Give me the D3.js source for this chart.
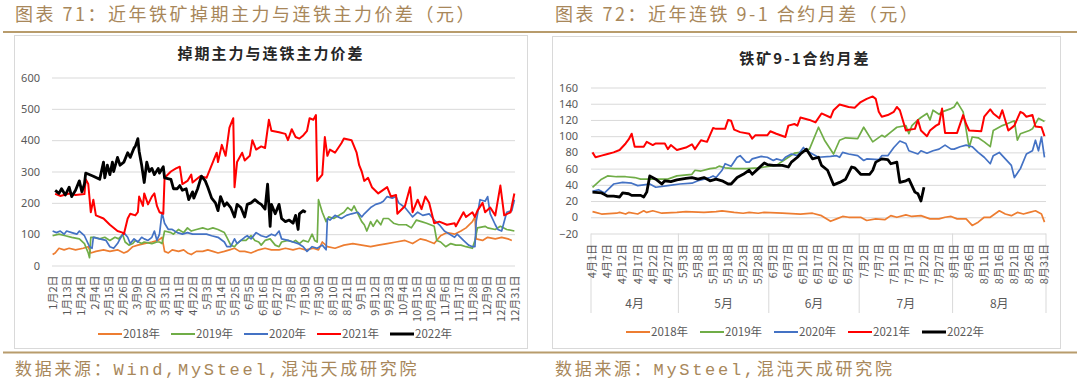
<!DOCTYPE html>
<html><head><meta charset="utf-8">
<script src="https://cdn.jsdelivr.net/npm/d3@7"></script>
<style>
html,body{margin:0;padding:0;background:#fff;}
svg{display:block;}
text{font-family:"Noto Sans CJK SC","Noto Sans",sans-serif;}
</style></head>
<body>
<svg id="c" width="1080" height="385"></svg>
<script>
// ---------- Left chart data (day index from 1/2, value) ----------
const leftTickLabels = ["1月2日","1月13日","1月24日","2月4日","2月15日","2月26日","3月9日","3月20日","3月31日","4月11日","4月22日","5月3日","5月14日","5月25日","6月5日","6月16日","6月27日","7月8日","7月19日","7月30日","8月10日","8月21日","9月1日","9月12日","9月23日","10月4日","10月15日","10月26日","11月6日","11月17日","11月28日","12月9日","12月20日","12月31日"];
const leftYTicks = [0,100,200,300,400,500,600];
const seriesNames = ["2018年","2019年","2020年","2021年","2022年"];
const seriesColors = ["#ED7D31","#70AD47","#4472C4","#FF0000","#000000"];

const left2018 = [[0,35],[2,40],[5,55],[9,50],[13,55],[18,50],[24,55],[28,60],[30,40],[34,45],[40,50],[45,45],[51,50],[56,40],[59,45],[63,60],[67,65],[72,70],[78,75],[83,80],[86,90],[88,45],[91,40],[94,50],[99,45],[103,50],[106,40],[109,35],[113,45],[118,45],[122,50],[126,45],[130,40],[135,45],[139,50],[143,55],[147,45],[151,45],[156,40],[162,50],[167,55],[172,50],[178,50],[183,55],[189,50],[194,55],[199,50],[205,55],[209,50],[212,75],[216,60],[222,55],[229,65],[236,70],[243,65],[250,60],[256,65],[263,70],[270,75],[277,80],[283,70],[289,85],[294,80],[300,70],[305,95],[310,105],[316,100],[321,110],[325,120],[330,140],[332,155],[333,85],[338,80],[342,90],[348,85],[353,90],[358,85],[361,80]];
const left2019 = [[0,95],[5,100],[10,95],[15,90],[21,85],[25,70],[28,40],[29,25],[30,90],[33,90],[37,85],[41,90],[45,80],[49,90],[52,85],[55,100],[57,75],[60,65],[63,70],[65,80],[70,70],[72,75],[78,70],[82,75],[84,75],[86,70],[88,110],[93,105],[95,100],[99,115],[103,105],[106,120],[109,110],[113,115],[118,120],[122,115],[126,120],[130,115],[135,105],[137,90],[140,65],[143,60],[145,70],[148,80],[152,80],[156,95],[159,80],[162,75],[164,65],[167,80],[171,85],[175,65],[178,60],[180,75],[185,80],[189,75],[191,80],[194,70],[197,80],[201,75],[204,100],[206,80],[208,75],[209,210],[212,170],[215,140],[217,155],[221,150],[225,160],[229,170],[232,185],[235,175],[237,190],[240,165],[243,140],[245,130],[247,110],[250,140],[252,125],[255,145],[258,130],[260,150],[264,150],[268,135],[272,130],[278,130],[282,120],[286,145],[290,140],[294,135],[300,125],[302,80],[305,75],[309,60],[313,70],[317,65],[321,65],[325,60],[330,55],[332,80],[334,120],[340,125],[342,120],[348,115],[352,125],[357,115],[363,110]];
const left2020 = [[0,110],[3,105],[6,110],[9,100],[11,110],[15,105],[19,100],[21,110],[25,95],[29,60],[31,55],[32,90],[37,85],[42,80],[45,60],[48,55],[51,70],[53,85],[56,105],[59,90],[61,70],[64,85],[67,75],[70,90],[72,85],[75,80],[78,90],[80,110],[82,80],[84,100],[86,170],[88,135],[91,115],[94,115],[98,105],[102,100],[106,105],[110,100],[116,100],[121,100],[125,95],[130,90],[135,75],[137,60],[140,60],[143,85],[145,70],[148,80],[151,90],[153,95],[156,85],[160,105],[164,95],[168,90],[172,100],[175,95],[178,110],[180,85],[185,80],[189,75],[193,70],[197,60],[200,45],[204,60],[208,55],[212,65],[215,50],[216,150],[218,145],[222,160],[227,150],[231,160],[235,165],[240,170],[243,155],[245,165],[250,185],[254,195],[258,200],[260,205],[263,220],[267,215],[270,220],[272,200],[277,185],[281,165],[283,155],[287,170],[291,160],[296,165],[300,145],[304,130],[308,110],[310,105],[316,90],[318,100],[323,80],[327,65],[330,60],[332,60],[333,140],[336,210],[340,205],[342,220],[344,165],[348,130],[350,115],[353,110],[357,170],[361,175],[363,210]];
const left2021 = [[2,229],[6,222],[13,230],[18,225],[25,228],[26,275],[28,260],[30,170],[32,210],[34,160],[40,150],[45,130],[51,110],[55,105],[56,100],[59,150],[61,165],[65,160],[67,170],[68,220],[71,190],[72,230],[75,195],[78,220],[80,230],[82,190],[84,170],[87,165],[88,280],[93,300],[97,310],[100,315],[102,260],[106,270],[109,290],[110,265],[116,285],[121,280],[124,310],[127,340],[129,360],[130,330],[133,385],[136,350],[139,440],[142,470],[143,250],[145,330],[149,360],[151,335],[155,350],[157,400],[160,370],[164,380],[167,375],[170,465],[172,430],[178,425],[183,420],[185,400],[188,435],[191,410],[194,405],[197,415],[200,430],[202,470],[205,465],[207,480],[208,270],[212,290],[214,410],[216,350],[218,370],[222,360],[227,390],[229,405],[235,400],[239,360],[241,320],[243,300],[245,270],[248,280],[251,250],[256,230],[263,250],[266,220],[270,225],[271,165],[277,190],[281,250],[283,170],[287,210],[290,180],[293,220],[296,200],[300,135],[304,140],[310,130],[316,135],[317,125],[323,170],[325,155],[330,170],[332,155],[334,175],[338,200],[340,170],[344,185],[348,160],[352,255],[355,160],[360,170],[363,230]];
const left2022 = [[2,240],[5,230],[7,245],[10,225],[13,250],[15,220],[18,240],[21,270],[23,235],[25,260],[26,295],[32,285],[37,275],[40,330],[41,280],[43,320],[45,290],[47,330],[48,300],[51,345],[53,320],[56,330],[59,360],[61,345],[64,375],[65,380],[67,405],[68,365],[70,320],[72,265],[74,330],[76,300],[78,310],[80,290],[83,310],[84,295],[87,315],[88,280],[93,275],[95,245],[98,245],[100,255],[102,240],[105,245],[107,210],[110,235],[111,215],[114,245],[117,285],[120,270],[122,250],[125,215],[128,200],[130,175],[132,220],[135,190],[137,200],[140,185],[143,155],[145,195],[148,185],[151,155],[153,195],[156,200],[159,210],[162,200],[164,195],[167,180],[169,260],[171,125],[172,195],[175,165],[178,195],[180,150],[183,140],[186,145],[189,135],[191,160],[193,115],[194,165],[197,175],[199,170]];

// ---------- Right chart data (trading-day category index, value) ----------
const rightMonths = ["4月","5月","6月","7月","8月"];
const rightMonthCounts = [29,30,30,31,31];
const rightTickLabels = ["4月1日","4月7日","4月12日","4月17日","4月22日","4月27日","5月3日","5月8日","5月13日","5月18日","5月23日","5月28日","6月2日","6月7日","6月12日","6月17日","6月22日","6月27日","7月2日","7月7日","7月12日","7月17日","7月22日","7月27日","8月1日","8月6日","8月11日","8月16日","8月21日","8月26日","8月31日"];
const rightYTicks = [-20,0,20,40,60,80,100,120,140,160];

const right2018 = [[0,7],[1,6],[3,4],[8,5],[9,6],[11,4],[12,6],[15,4],[17,8],[18,6],[20,8],[23,5],[28,6],[31,7],[37,6],[41,7],[43,8],[47,6],[50,5],[52,6],[55,5],[57,6],[63,5],[69,4],[73,5],[76,2],[79,-5],[81,-2],[83,1],[85,0],[89,0],[91,-4],[94,-2],[97,-3],[99,2],[101,0],[104,3],[106,1],[109,2],[112,-2],[115,-2],[117,0],[119,1],[121,-2],[124,-2],[126,-10],[128,-6],[130,0],[132,0],[135,8],[137,4],[139,2],[141,6],[143,4],[145,6],[147,8],[149,4],[150,-6]];
const right2019 = [[0,37],[3,47],[5,51],[8,50],[11,50],[14,49],[16,47],[18,47],[21,47],[25,47],[28,51],[33,53],[34,58],[36,57],[39,60],[41,61],[42,63],[44,61],[47,60],[51,60],[55,61],[57,62],[61,64],[65,74],[67,79],[69,80],[72,84],[75,111],[77,95],[80,78],[82,95],[84,98],[88,97],[90,111],[93,93],[96,101],[97,99],[99,105],[101,111],[104,113],[105,103],[106,113],[108,120],[109,123],[111,128],[112,120],[113,132],[115,127],[116,130],[119,134],[120,136],[121,142],[123,130],[125,86],[126,99],[128,98],[130,93],[132,87],[133,107],[136,113],[138,116],[140,119],[141,95],[142,103],[145,107],[146,109],[148,122],[150,118]];
const right2020 = [[0,32],[2,34],[4,30],[7,41],[10,43],[13,42],[15,39],[17,40],[19,41],[21,37],[25,39],[29,41],[33,42],[35,45],[37,47],[39,49],[40,51],[41,49],[43,58],[44,66],[46,63],[48,74],[49,76],[51,68],[52,68],[53,72],[56,75],[58,74],[60,70],[61,72],[63,70],[64,74],[66,78],[68,76],[70,86],[71,82],[73,78],[75,74],[79,75],[81,76],[82,74],[83,80],[85,78],[88,76],[90,70],[91,72],[95,71],[96,76],[98,76],[100,86],[102,94],[104,91],[105,82],[108,78],[109,82],[111,79],[113,82],[115,84],[117,89],[119,84],[120,84],[122,87],[124,89],[126,87],[128,80],[130,74],[132,66],[133,76],[135,80],[137,72],[139,64],[140,49],[142,60],[144,78],[146,82],[147,95],[148,82],[149,99],[150,74]];
const right2021 = [[0,80],[1,74],[3,76],[5,78],[7,80],[9,83],[11,91],[12,96],[13,103],[14,87],[17,87],[18,93],[20,89],[21,91],[24,91],[25,84],[26,89],[28,83],[31,86],[33,90],[34,84],[36,95],[38,93],[40,110],[41,109],[44,109],[45,120],[46,119],[47,108],[49,105],[52,103],[53,97],[54,101],[58,101],[59,106],[61,103],[64,99],[65,113],[67,115],[68,113],[69,123],[72,120],[74,117],[76,128],[79,123],[80,132],[82,139],[85,136],[87,135],[89,142],[91,146],[93,149],[94,146],[95,130],[96,124],[98,126],[100,130],[101,136],[102,132],[104,107],[105,108],[107,109],[108,120],[109,107],[111,100],[112,107],[114,113],[115,115],[116,134],[117,104],[121,104],[123,126],[124,115],[125,107],[129,106],[130,124],[132,133],[133,128],[135,122],[136,132],[138,107],[140,113],[142,130],[143,128],[144,124],[146,126],[147,112],[149,111],[150,100]];
const right2022 = [[0,31],[3,30],[4,28],[5,26],[7,26],[9,25],[10,30],[12,29],[13,27],[16,27],[17,25],[18,31],[19,51],[21,47],[23,41],[24,45],[26,44],[28,46],[31,48],[33,49],[35,47],[37,49],[39,45],[41,47],[43,45],[45,41],[46,41],[48,49],[50,53],[52,58],[53,53],[55,60],[57,67],[58,65],[60,64],[63,64],[65,62],[66,68],[68,74],[69,78],[71,84],[73,72],[75,74],[76,64],[78,58],[80,40],[82,43],[84,47],[86,62],[87,61],[89,53],[92,53],[93,58],[94,68],[96,72],[98,71],[99,66],[101,68],[102,43],[104,45],[105,47],[107,31],[108,29],[109,20],[110,37]];

// ---------- drawing ----------
const svg = d3.select("#c");
const GOLD_TXT = "#A8875A", GOLD_LINE = "#B89C6C", GRID = "#D9D9D9", AXT = "#595959";

// header texts & lines
svg.append("text").attr("x",15).attr("y",21).attr("font-size",18).attr("letter-spacing",2.5)
  .attr("fill",GOLD_TXT).text("图表 71：近年铁矿掉期主力与连铁主力价差（元）");
svg.append("text").attr("x",555).attr("y",21).attr("font-size",18).attr("letter-spacing",2.5)
  .attr("fill",GOLD_TXT).text("图表 72：近年连铁 9-1 合约月差（元）");
svg.append("line").attr("x1",3).attr("x2",1077).attr("y1",32).attr("y2",32).attr("stroke",GOLD_LINE).attr("stroke-width",2);
svg.append("line").attr("x1",3).attr("x2",1077).attr("y1",352.5).attr("y2",352.5).attr("stroke",GOLD_LINE).attr("stroke-width",2);
svg.append("text").attr("x",15).attr("y",375).attr("font-size",17).attr("letter-spacing",2.7)
  .attr("fill",GOLD_TXT).style("font-family","'Liberation Mono','Noto Sans CJK SC',monospace").text("数据来源：Wind,MySteel,混沌天成研究院");
svg.append("text").attr("x",555).attr("y",375).attr("font-size",17).attr("letter-spacing",2.7)
  .attr("fill",GOLD_TXT).style("font-family","'Liberation Mono','Noto Sans CJK SC',monospace").text("数据来源：MySteel,混沌天成研究院");

// boxes
svg.append("rect").attr("x",14.5).attr("y",35.5).attr("width",513).attr("height",313).attr("fill","#fff").attr("stroke",GRID);
svg.append("rect").attr("x",552.5).attr("y",36.5).attr("width",508).attr("height",312).attr("fill","#fff").attr("stroke",GRID);

function legend(g, x0, y, step){
  seriesNames.forEach((n,i)=>{
    const x = x0 + i*step;
    g.append("line").attr("x1",x).attr("x2",x+24).attr("y1",y).attr("y2",y)
      .attr("stroke",seriesColors[i]).attr("stroke-width", i===4?3:2);
    g.append("text").attr("x",x+25).attr("y",y).attr("dy","0.35em").attr("font-size",11.5)
      .attr("fill",AXT).text(n);
  });
}

// ===== LEFT =====
{
  const g = svg.append("g");
  const x = d3.scaleLinear().domain([0,364]).range([52,515]);
  const y = d3.scaleLinear().domain([0,600]).range([265.5,77.5]);
  g.append("text").attr("x",271).attr("y",54).attr("dy","0.35em").attr("text-anchor","middle")
    .attr("font-size",15).attr("font-weight","bold").attr("letter-spacing",2).attr("fill","#262626").text("掉期主力与连铁主力价差");
  const ya = d3.axisLeft(y).tickValues(leftYTicks).tickSize(-(515-52)).tickPadding(12);
  const yg = g.append("g").attr("transform","translate(52,0)").call(ya);
  yg.select(".domain").remove();
  yg.selectAll("line").attr("stroke",GRID);
  yg.selectAll("text").attr("font-size",11).attr("fill",AXT).style("font-family","'Noto Sans',sans-serif");
  const tickIdx = leftTickLabels.map((_,i)=>i*11);
  const xa = d3.axisBottom(x).tickValues(tickIdx.map(d=>d+0.5)).tickSize(0).tickFormat((d,i)=>leftTickLabels[i]);
  const xg = g.append("g").attr("transform","translate(0,265.5)").call(xa);
  xg.select(".domain").remove();
  xg.selectAll("text").attr("font-size",11).attr("fill",AXT)
    .attr("text-anchor","end").attr("transform","rotate(-90)").attr("x",-10).attr("y",0).attr("dy","0.35em");
  const line = d3.line().x(d=>x(d[0]+0.5)).y(d=>y(d[1]));
  [left2018,left2019,left2020,left2021,left2022].forEach((s,i)=>{
    g.append("path").datum(s).attr("d",line).attr("fill","none").attr("stroke",seriesColors[i])
      .attr("stroke-width", i===4?2.8:(i===3?2:1.7)).attr("stroke-linejoin","round");
  });
  legend(g, 98, 334, 73);
}

// ===== RIGHT =====
{
  const g = svg.append("g");
  const nCat = d3.sum(rightMonthCounts);
  const cats = d3.range(nCat);
  const x = d3.scaleBand().domain(cats).range([591,1046]);
  const xc = i => x(i) + x.bandwidth()/2;
  const y = d3.scaleLinear().domain([-20,160]).range([233.5,87.5]);
  g.append("text").attr("x",805).attr("y",59).attr("dy","0.35em").attr("text-anchor","middle")
    .attr("font-size",15).attr("font-weight","bold").attr("letter-spacing",2).attr("fill","#262626").text("铁矿9-1合约月差");
  const ya = d3.axisLeft(y).tickValues(rightYTicks).tickSize(-(1046-591)).tickPadding(13);
  const yg = g.append("g").attr("transform","translate(591,0)").call(ya);
  yg.select(".domain").remove();
  yg.selectAll("line").attr("stroke",GRID);
  yg.selectAll("text").attr("font-size",11).attr("fill",AXT).style("font-family","'Noto Sans',sans-serif");
  // month separators & labels
  let acc = 0;
  const bounds = [0];
  rightMonthCounts.forEach(c=>{acc+=c; bounds.push(acc);});
  bounds.forEach(b=>{
    const xx = b===nCat ? 1046 : x(b);
    g.append("line").attr("x1",xx).attr("x2",xx).attr("y1",233.5).attr("y2",313).attr("stroke",GRID);
  });
  rightMonths.forEach((m,i)=>{
    const xm = (x(bounds[i]) + (bounds[i+1]===nCat?1046:x(bounds[i+1])))/2;
    g.append("text").attr("x",xm).attr("y",304).attr("dy","0.35em").attr("text-anchor","middle")
      .attr("font-size",12).attr("fill",AXT).text(m);
  });
  const tickIdx = rightTickLabels.map((_,i)=>i*5);
  tickIdx.forEach((ci,i)=>{
    g.append("text").attr("transform",`translate(${xc(ci)},244) rotate(-90)`).attr("text-anchor","end")
      .attr("dy","0.35em").attr("font-size",11).attr("fill",AXT).text(rightTickLabels[i]);
  });
  const line = d3.line().x(d=>xc(d[0])).y(d=>y(d[1]));
  [right2018,right2019,right2020,right2021,right2022].forEach((s,i)=>{
    g.append("path").datum(s).attr("d",line).attr("fill","none").attr("stroke",seriesColors[i])
      .attr("stroke-width", i===4?2.8:(i===3?2:1.7)).attr("stroke-linejoin","round");
  });
  legend(g, 626, 332, 74);
}
</script>
</body></html>
